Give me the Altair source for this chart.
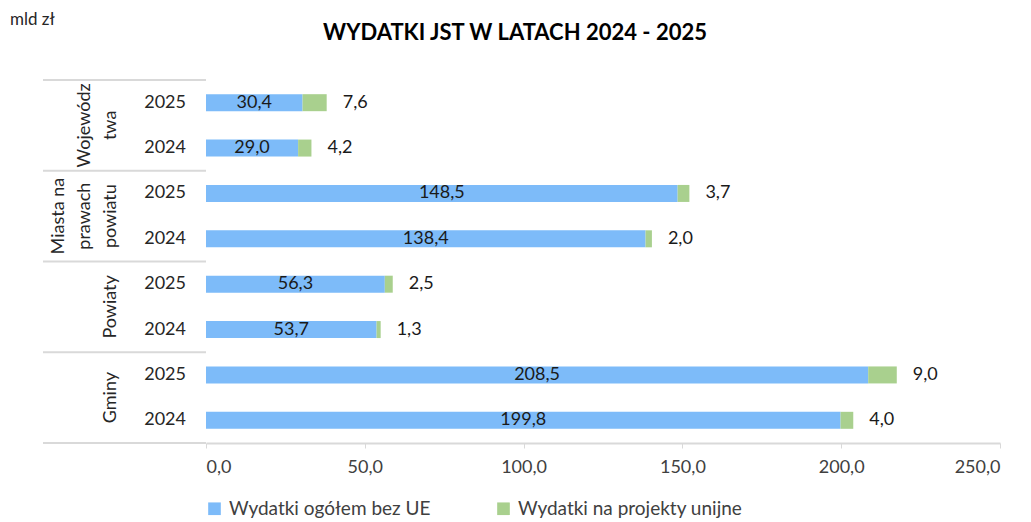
import altair as alt
import pandas as pd

# ---- data ----
groups = ["Województwa", "Miasta na prawach powiatu", "Powiaty", "Gminy"]
group_lines = [["Wojewódz", "twa"], ["Miasta na", "prawach", "powiatu"], ["Powiaty"], ["Gminy"]]
years = ["2025", "2024"]
bez_ue = [30.4, 29.0, 148.5, 138.4, 56.3, 53.7, 208.5, 199.8]
unijne = [7.6, 4.2, 3.7, 2.0, 2.5, 1.3, 9.0, 4.0]
series = ["Wydatki ogółem bez UE", "Wydatki na projekty unijne"]
colors = ["#7DBBF9", "#A9D08E"]
x_ticks = [0, 50, 100, 150, 200, 250]
title_text = "WYDATKI  JST W LATACH 2024 - 2025"
unit_text = "mld zł"

FONT = "Lato"

# ---- tables ----
row_order = []
wide = []
i = 0
for g in groups:
    for yr in years:
        key = f"{g} {yr}"
        row_order.append(key)
        wide.append({"row": key, "group": g, "year": yr,
                     "bez": bez_ue[i], "uni": unijne[i]})
        i += 1
wide = pd.DataFrame(wide)

long_rows = []
for _, r in wide.iterrows():
    long_rows.append({"row": r["row"], "series": series[0], "value": r["bez"], "ord": 0})
    long_rows.append({"row": r["row"], "series": series[1], "value": r["uni"], "ord": 1})
long = pd.DataFrame(long_rows)

grp = pd.DataFrame({
    "group": groups,
    "first": [f"{g} {years[0]}" for g in groups],
    "last": [f"{g} {years[-1]}" for g in groups],
})

# one row per text line of the rotated group labels, k = position counted from the last line
line_rows = []
for g, lines in zip(groups, group_lines):
    n = len(lines)
    for j, ln in enumerate(lines):
        line_rows.append({"first": f"{g} {years[0]}", "line": ln, "k": n - 1 - j})
lines_df = pd.DataFrame(line_rows)

y_scale = alt.Scale(domain=row_order, paddingInner=0, paddingOuter=0)


def Y(field, bp=None, axis=None):
    kw = {}
    if bp is not None:
        kw["bandPosition"] = bp
    return alt.Y(field, type="nominal", scale=y_scale, axis=axis, title=None, **kw)


label_expr = "replace(format(datum.value, '.1f'), '.', ',')"

bars = alt.Chart(long).mark_bar(size=17).encode(
    x=alt.X("value:Q", stack="zero",
            scale=alt.Scale(domain=[0, 250], nice=False),
            axis=alt.Axis(values=x_ticks, labelExpr=label_expr, grid=False,
                          domainColor="#d9d9d9", domainWidth=2,
                          tickColor="#d9d9d9", tickSize=5, tickWidth=1,
                          labelFont=FONT, labelFontSize=18, labelColor="#404040",
                          labelPadding=10, title=None)),
    y=Y("row", axis=alt.Axis(labels=False, ticks=False, domainColor="#d9d9d9",
                             domainWidth=2, grid=False)),
    color=alt.Color("series:N", scale=alt.Scale(domain=series, range=colors),
                    legend=alt.Legend(title=None, orient="none", direction="horizontal",
                                      legendX=-1, legendY=419,
                                      symbolType="square", symbolSize=160,
                                      symbolStrokeWidth=0, labelOffset=5,
                                      labelFont=FONT, labelFontSize=19,
                                      labelColor="#404040", columnPadding=63,
                                      labelLimit=400)),
    order=alt.Order("ord:Q"),
)

blue_lbl = alt.Chart(wide).transform_calculate(
    mid="datum.bez / 2",
    txt="replace(format(datum.bez, '.1f'), '.', ',')",
).mark_text(font=FONT, fontSize=18, color="#1a1a1a", baseline="middle").encode(
    x="mid:Q", y=Y("row"), text="txt:N")

green_lbl = alt.Chart(wide).transform_calculate(
    tot="datum.bez + datum.uni",
    txt="replace(format(datum.uni, '.1f'), '.', ',')",
).mark_text(font=FONT, fontSize=18, color="#1a1a1a", baseline="middle",
            align="left", dx=16).encode(
    x="tot:Q", y=Y("row"), text="txt:N")

year_lbl = alt.Chart(wide).mark_text(font=FONT, fontSize=18, color="#262626",
                                     align="right", baseline="middle").encode(
    x=alt.value(-20), y=Y("row"), text="year:N")

group_layers = []
for k, xpix in [(0, -86), (1, -112), (2, -138)]:
    group_layers.append(
        alt.Chart(lines_df).transform_filter(f"datum.k == {k}").mark_text(
            font=FONT, fontSize=18, color="#262626", angle=270,
            align="center", baseline="bottom").encode(
            x=alt.value(xpix), y=Y("first", bp=1), text="line:N")
    )

sep_top = alt.Chart(grp).mark_rule(color="#d9d9d9", strokeWidth=2).encode(
    x=alt.value(-163), x2=alt.value(0), y=Y("first", bp=0))

sep_bottom = alt.Chart(grp.tail(1)).mark_rule(color="#d9d9d9", strokeWidth=2).encode(
    x=alt.value(-163), x2=alt.value(0), y=Y("last", bp=1))

title_df = pd.DataFrame({"t": [title_text], "u": [unit_text]})
title_mark = alt.Chart(title_df).mark_text(font=FONT, fontSize=22, fontWeight="bold",
                                           color="#000000", align="center",
                                           baseline="middle").encode(
    x=alt.value(309), y=alt.value(-47), text="t:N")
unit_mark = alt.Chart(title_df).mark_text(font=FONT, fontSize=17, color="#262626",
                                          align="left", baseline="middle").encode(
    x=alt.value(-196), y=alt.value(-60), text="u:N")

chart = alt.layer(
    sep_top, sep_bottom, bars, blue_lbl, green_lbl, year_lbl, *group_layers,
    title_mark, unit_mark,
).properties(
    width=794, height=363,
    autosize=alt.AutoSizeParams(type="none"),
    padding={"left": 198, "top": 72, "right": 23, "bottom": 76},
).configure(background="white").configure_view(stroke=None)

chart.save("out.html", embed_options={"renderer": "svg", "actions": False})
